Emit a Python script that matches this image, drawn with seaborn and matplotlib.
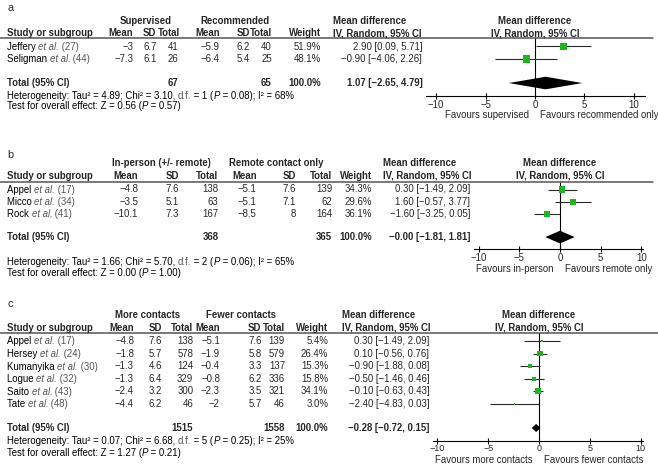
import numpy as np
import pandas as pd
import seaborn as sns
import matplotlib.pyplot as plt
from matplotlib.lines import Line2D

sns.set_theme(style="white")
plt.rcParams['font.family'] = ['Liberation Sans', 'DejaVu Sans']

W, H = 658, 465
FS = 6.9
GREEN = '#19b919'
GREY = '#555555'

# ---- panel a: supervised vs recommended
a_study = ['Jeffery', 'Seligman']
a_ref = [27, 44]
a_m1 = [-3, -7.3]; a_sd1 = [6.7, 6.1]; a_n1 = [41, 26]
a_m2 = [-5.9, -6.4]; a_sd2 = [6.2, 5.4]; a_n2 = [40, 25]
a_weight = [51.9, 48.1]
a_md = [2.90, -0.90]; a_lo = [0.09, -4.06]; a_hi = [5.71, 2.26]
a_total = [1.07, -2.65, 4.79]
a_tot_n = [67, 65]
a_het = [4.89, 3.10, 1, 0.08, 68]
a_z = [0.56, 0.57]
a_groups = ['Supervised', 'Recommended']
a_favours = ['Favours supervised', 'Favours recommended only']

# ---- panel b: in-person vs remote
b_study = ['Appel', 'Micco', 'Rock']
b_ref = [17, 34, 41]
b_m1 = [-4.8, -3.5, -10.1]; b_sd1 = [7.6, 5.1, 7.3]; b_n1 = [138, 63, 167]
b_m2 = [-5.1, -5.1, -8.5]; b_sd2 = [7.6, 7.1, 8]; b_n2 = [139, 62, 164]
b_weight = [34.3, 29.6, 36.1]
b_md = [0.30, 1.60, -1.60]; b_lo = [-1.49, -0.57, -3.25]; b_hi = [2.09, 3.77, 0.05]
b_total = [-0.0, -1.81, 1.81]
b_tot_n = [368, 365]
b_het = [1.66, 5.70, 2, 0.06, 65]
b_z = [0.00, 1.00]
b_groups = ['In-person (+/- remote)', 'Remote contact only']
b_favours = ['Favours in-person', 'Favours remote only']

# ---- panel c: more vs fewer contacts
c_study = ['Appel', 'Hersey', 'Kumanyika', 'Logue', 'Saito', 'Tate']
c_ref = [17, 24, 30, 32, 43, 48]
c_m1 = [-4.8, -1.8, -1.3, -1.3, -2.4, -4.4]
c_sd1 = [7.6, 5.7, 4.6, 6.4, 3.2, 6.2]
c_n1 = [138, 578, 124, 329, 300, 46]
c_m2 = [-5.1, -1.9, -0.4, -0.8, -2.3, -2]
c_sd2 = [7.6, 5.8, 3.3, 6.2, 3.5, 5.7]
c_n2 = [139, 579, 137, 336, 321, 46]
c_weight = [5.4, 26.4, 15.3, 15.8, 34.1, 3.0]
c_md = [0.30, 0.10, -0.90, -0.50, -0.10, -2.40]
c_lo = [-1.49, -0.56, -1.88, -1.46, -0.63, -4.83]
c_hi = [2.09, 0.76, 0.08, 0.46, 0.43, 0.03]
c_total = [-0.28, -0.72, 0.15]
c_tot_n = [1515, 1558]
c_het = [0.07, 6.68, 5, 0.25, 25]
c_z = [1.27, 0.21]
c_groups = ['More contacts', 'Fewer contacts']
c_favours = ['Favours more contacts', 'Favours fewer contacts']

ticks = [-10, -5, 0, 5, 10]


def num(v):
    return f"{v:g}".replace('-', '\u2212')


def ci(m, l, h):
    return f"{m:.2f} [{l:.2f}, {h:.2f}]".replace('-', '\u2212')


fig = plt.figure(figsize=(W / 100, H / 100), dpi=100)
renderer = fig.canvas.get_renderer()


def txt(x, y, s, bold=False, **kw):
    kw.setdefault('va', 'center')
    return fig.text(x / W, 1 - y / H, s, fontsize=kw.pop('fs', FS),
                    fontweight='bold' if bold else 'normal', **kw)


def rich(x, y, parts):
    # parts: (text, style, colour), laid out one after the other on a shared baseline
    yb = y + 3.4
    cur = x
    for s, style, col in parts:
        t = fig.text(cur / W, 1 - yb / H, s, fontsize=FS, style=style, color=col,
                     va='baseline', ha='left')
        cur = t.get_window_extent(renderer).x1 * W / fig.bbox.width


def panel(letter, study, ref, m1, sd1, n1, m2, sd2, n2, weight, md, lo, hi,
          total, tot_n, het, z, groups, favours, lay):
    n = len(study)
    y0, pitch = lay['y0'], lay['pitch']
    ry = lambda i: y0 + i * pitch
    cols = lay['cols']
    t_row = n + 0.9

    txt(7, lay['letter'], letter, fs=7.8)
    # group headers
    txt(lay['gc'][0], lay['gh'], groups[0], bold=True, ha='center')
    txt(lay['gc'][1], lay['gh'], groups[1], bold=True, ha='center')
    txt(lay['md_left'], lay['gh'], 'Mean difference', bold=True, ha='left')
    txt(lay['zero'], lay['gh'], 'Mean difference', bold=True, ha='center')
    # column headers
    txt(7, lay['ch'], 'Study or subgroup', bold=True, ha='left')
    hcols = [x + d for x, d in zip(cols, lay['hshift'])]
    for x, s in zip(hcols, ['Mean', 'SD', 'Total', 'Mean', 'SD', 'Total', 'Weight']):
        txt(x, lay['ch'], s, bold=True, ha='right')
    txt(lay['md_left'], lay['ch'], 'IV, Random, 95% CI', bold=True, ha='left')
    txt(lay['zero'], lay['ch'], 'IV, Random, 95% CI', bold=True, ha='center')
    fig.add_artist(Line2D([0, lay['line_r'] / W], [1 - lay['hl'] / H] * 2,
                          transform=fig.transFigure, color='#555555', lw=1.1))

    # study rows
    for i in range(n):
        y = ry(i)
        rich(7, y, [(study[i] + ' ', 'normal', 'black'), ('et al.', 'italic', GREY),
                    (f' ({ref[i]})', 'normal', GREY)])
        vals = [num(m1[i]), num(sd1[i]), str(n1[i]), num(m2[i]), num(sd2[i]),
                str(n2[i]), f"{weight[i]:.1f}%"]
        for x, s in zip(cols, vals):
            txt(x, y, s, ha='right')
        txt(lay['md_right'], y, ci(md[i], lo[i], hi[i]), ha='right')

    # total row
    yt = ry(t_row)
    txt(7, yt, 'Total (95% CI)', bold=True, ha='left')
    txt(cols[2], yt, str(tot_n[0]), bold=True, ha='right')
    txt(cols[5], yt, str(tot_n[1]), bold=True, ha='right')
    txt(cols[6], yt, '100.0%', bold=True, ha='right')
    txt(lay['md_right'], yt, ci(*total), bold=True, ha='right')
    rich(7, lay['het'], [(f"Heterogeneity: Tau\u00b2 = {het[0]:.2f}; Chi\u00b2 = {het[1]:.2f}, ", 'normal', 'black'),
                         ('d.f.', 'normal', GREY),
                         (f" = {het[2]} (", 'normal', 'black'), ('P', 'italic', 'black'),
                         (f" = {het[3]:.2f}); I\u00b2 = {het[4]}%", 'normal', 'black')])
    rich(7, lay['test'], [(f"Test for overall effect: Z = {z[0]:.2f} (", 'normal', 'black'),
                          ('P', 'italic', 'black'), (f" = {z[1]:.2f})", 'normal', 'black')])

    # forest plot
    L, R, top, bot = lay['ax_l'], lay['ax_r'], lay['hl'], lay['axis']
    ax = fig.add_axes([L / W, 1 - bot / H, (R - L) / W, (bot - top) / H])
    ax.set_facecolor('none')
    df = pd.DataFrame({'md': md, 'lo': lo, 'hi': hi, 'row': np.arange(n), 'weight': weight})
    ax.hlines(df['row'], df['lo'], df['hi'], color='#2a2a2a', lw=0.8, zorder=2)
    sns.scatterplot(data=df, x='md', y='row', size='weight', sizes=(0, 56),
                    size_norm=(0, 100), marker='s', color=GREEN, linewidth=0,
                    legend=False, ax=ax, zorder=3)
    hh = lay['dh']
    ax.fill([total[1], total[0], total[2], total[0]],
            [t_row, t_row - hh, t_row, t_row + hh], color='black', lw=0, zorder=3)
    ax.axvline(0, color='black', lw=0.8, zorder=1)
    ax.set_xlim((L - lay['zero']) / lay['ppu'], (R - lay['zero']) / lay['ppu'])
    ax.set_ylim((bot - y0) / pitch, (top - y0) / pitch)
    ax.set_xlabel('')
    ax.set_ylabel('')
    ax.set_yticks([])
    ax.set_xticks(ticks)
    for s in ['top', 'right', 'left']:
        ax.spines[s].set_visible(False)
    ax.spines['bottom'].set_color('black')
    ax.spines['bottom'].set_linewidth(0.8)
    ax.tick_params(axis='x', direction='inout', length=lay['tl'], width=0.8,
                   labelsize=lay['tfs'], pad=lay['pad'], color='black', bottom=True)
    txt(lay['zero'] - 6, bot + lay['fav'], favours[0], ha='right')
    txt(lay['zero'] + 5, bot + lay['fav'], favours[1], ha='left')


lay_a = dict(letter=8, gh=20.5, ch=33, hl=38.5, y0=46.5, pitch=12.6, het=95.5, test=106,
             cols=[133.3, 156.7, 178.3, 220, 250, 271.7, 320.7], gc=[146, 235],
             hshift=[0, -0.5, 1.5, 0, 0, 0, 0],
             md_left=333, md_right=422.3, zero=535, ppu=9.88, ax_l=426, ax_r=645,
             axis=96, line_r=653, fav=19, dh=0.5, tl=5, tfs=FS, pad=0.5)
lay_b = dict(letter=155, gh=163.5, ch=176, hl=182, y0=189.5, pitch=12.2, het=262, test=273,
             cols=[138.3, 179, 218.3, 256.7, 296, 332.3, 371.7], gc=[161.7, 276],
             hshift=[0, 0, 0, 0, 0, 0, 0],
             md_left=383.3, md_right=470, zero=560, ppu=8.12, ax_l=474, ax_r=643.3,
             axis=249, line_r=653, fav=20, dh=0.52, tl=5, tfs=FS, pad=0.5)
lay_c = dict(letter=304, gh=315, ch=328, hl=332.5, y0=341, pitch=12.6, het=441, test=452.5,
             cols=[134, 161.7, 193.3, 220, 261.7, 285, 328.3], gc=[147.5, 240.8],
             hshift=[0, 0, 0, 0, -0.5, 0.5, 0],
             md_left=341.7, md_right=429.3, zero=539, ppu=10.17, ax_l=433, ax_r=643,
             axis=440.5, line_r=658, fav=19.5, dh=0.32, tl=4, tfs=6.5, pad=0.2)

panel('a', a_study, a_ref, a_m1, a_sd1, a_n1, a_m2, a_sd2, a_n2, a_weight, a_md, a_lo, a_hi,
      a_total, a_tot_n, a_het, a_z, a_groups, a_favours, lay_a)
panel('b', b_study, b_ref, b_m1, b_sd1, b_n1, b_m2, b_sd2, b_n2, b_weight, b_md, b_lo, b_hi,
      b_total, b_tot_n, b_het, b_z, b_groups, b_favours, lay_b)
panel('c', c_study, c_ref, c_m1, c_sd1, c_n1, c_m2, c_sd2, c_n2, c_weight, c_md, c_lo, c_hi,
      c_total, c_tot_n, c_het, c_z, c_groups, c_favours, lay_c)

fig.savefig('out.png', dpi=100, facecolor='white')
